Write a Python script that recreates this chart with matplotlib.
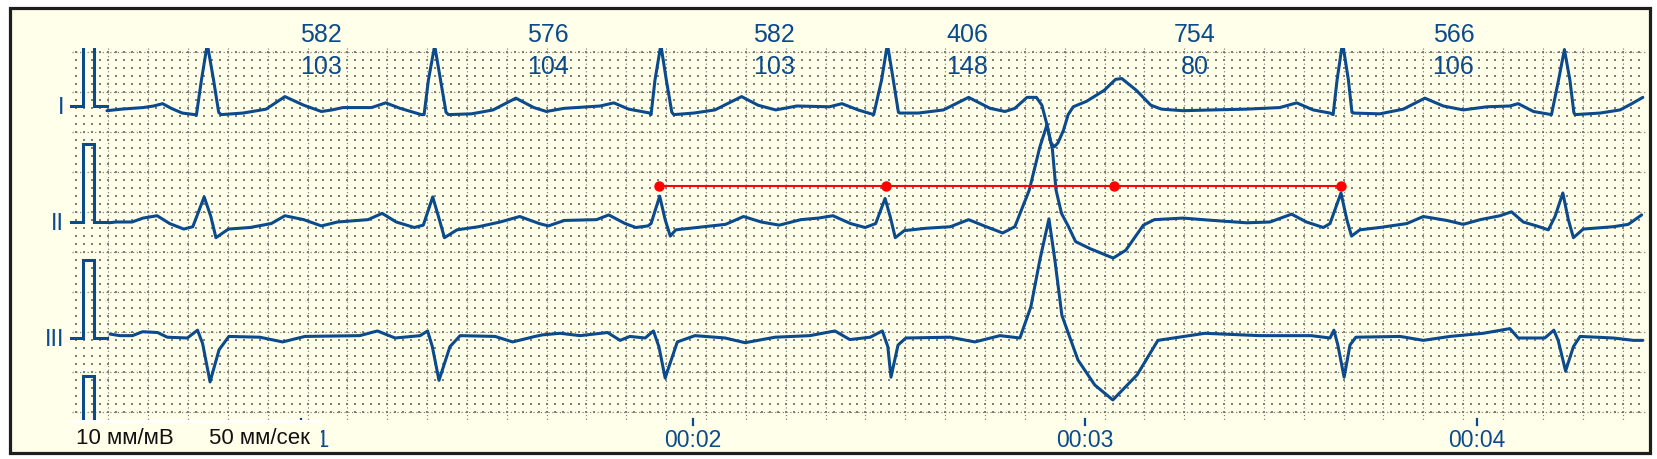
import numpy as np
import matplotlib
matplotlib.use("Agg")
import matplotlib.pyplot as plt
from matplotlib.patches import Rectangle
from matplotlib.transforms import blended_transform_factory

plt.rcParams['font.family'] = ['Liberation Sans', 'DejaVu Sans']

# ---------------- data (time in ms, amplitude in mV) ----------------
lead1_ms = [505, 542, 597, 624, 647, 669, 697, 729, 733, 746, 761, 777, 790, 796,
            852, 911, 959, 1007, 1052, 1079, 1107, 1180, 1216, 1253, 1307, 1314, 1325, 1341, 1356, 1370, 1376,
            1435, 1490, 1548, 1594, 1626, 1671, 1763, 1798, 1836, 1890, 1893, 1903, 1918, 1932, 1946, 1951,
            2002, 2056, 2124, 2166, 2211, 2265, 2348, 2380, 2421, 2461, 2481, 2496, 2511, 2524, 2528,
            2575, 2639, 2703, 2758, 2796, 2821, 2852, 2876, 2890, 2902, 2913, 2922, 2931, 2945, 2957, 2970,
            3004, 3049, 3078, 3094, 3131, 3168, 3195, 3250, 3326, 3412, 3497, 3540, 3582, 3625, 3633,
            3643, 3657, 3672, 3681, 3684,
            3752, 3812, 3867, 3914, 3965, 4025, 4084, 4105, 4144, 4190, 4208, 4223, 4237, 4247, 4250,
            4314, 4365, 4395, 4423]
lead1_mv = [-0.06, -0.04, -0.02, 0.00, 0.03, -0.03, -0.09, -0.11, -0.12, 0.33, 0.79, 0.33, -0.08, -0.11,
            -0.09, -0.04, 0.12, 0.01, -0.07, -0.05, -0.02, -0.02, 0.04, -0.03, -0.11, -0.11, 0.33, 0.77, 0.33, -0.08, -0.11,
            -0.10, -0.05, 0.10, -0.02, -0.07, -0.03, 0.00, 0.04, -0.04, -0.09, -0.11, 0.33, 0.78, 0.33, -0.08, -0.11,
            -0.09, -0.05, 0.12, 0.01, -0.05, 0.00, -0.01, 0.03, -0.05, -0.11, 0.33, 0.79, 0.33, -0.08, -0.09,
            -0.09, -0.05, 0.11, -0.03, -0.07, -0.03, 0.11, 0.11, 0.01, -0.22, -0.47, -0.52, -0.47, -0.31, -0.11, -0.01,
            0.06, 0.20, 0.34, 0.35, 0.20, 0.01, -0.04, -0.06, -0.05, -0.04, -0.02, 0.04, -0.05, -0.09, -0.11,
            0.33, 0.81, 0.33, -0.08, -0.09,
            -0.10, -0.04, 0.10, 0.00, -0.05, -0.01, 0.00, 0.03, -0.07, -0.11, 0.33, 0.72, 0.33, -0.08, -0.11,
            -0.09, -0.05, 0.03, 0.11]

lead2_ms = [510, 528, 569, 597, 633, 665, 701, 724, 753, 770, 783, 815, 870, 924, 959, 1007, 1052, 1093,
            1171, 1207, 1243, 1289, 1312, 1336, 1353, 1366, 1398, 1453, 1508, 1558, 1608, 1631, 1672, 1754,
            1785, 1827, 1854, 1885, 1893, 1915, 1929, 1942, 1956, 2010, 2083, 2129, 2174, 2220, 2275, 2320,
            2357, 2402, 2439, 2466, 2490, 2503, 2516, 2539, 2594, 2657, 2703, 2748, 2790, 2821, 2858, 2885,
            2903, 2917, 2926, 2940, 2958, 2976, 3013, 3072, 3104, 3149, 3177, 3250, 3327, 3412, 3472, 3527,
            3565, 3608, 3625, 3653, 3668, 3680, 3701, 3752, 3821, 3863, 3923, 3965, 4008, 4059, 4088, 4118,
            4152, 4182, 4199, 4219, 4233, 4246, 4271, 4348, 4386, 4420]
lead2_mv = [-0.01, 0.00, 0.00, 0.05, 0.08, -0.02, -0.09, -0.06, 0.32, 0.07, -0.20, -0.09, -0.07, -0.02, 0.08, 0.03, -0.05, 0.00,
            0.03, 0.11, 0.00, -0.07, -0.04, 0.32, 0.03, -0.20, -0.10, -0.06, 0.00, 0.07, -0.02, -0.05, 0.02, 0.03,
            0.09, -0.02, -0.07, -0.05, -0.02, 0.33, 0.03, -0.18, -0.10, -0.07, -0.03, 0.07, 0.00, -0.04, 0.03, 0.05,
            0.08, -0.02, -0.07, -0.02, 0.30, 0.07, -0.20, -0.11, -0.08, -0.06, 0.03, -0.06, -0.14, -0.06, 0.41, 0.96,
            1.24, 0.92, 0.41, 0.11, -0.06, -0.25, -0.34, -0.46, -0.36, -0.04, 0.03, 0.05, 0.02, -0.01, 0.00, 0.10,
            0.00, -0.07, -0.02, 0.37, 0.03, -0.18, -0.10, -0.07, -0.02, 0.07, 0.02, -0.03, 0.03, 0.08, 0.13, 0.00,
            -0.05, -0.10, 0.07, 0.37, 0.03, -0.20, -0.09, -0.06, -0.03, 0.09]

lead3_ms = [513, 538, 570, 596, 634, 659, 710, 736, 749, 768, 791, 816, 895, 953, 1010, 1150, 1195, 1240,
            1304, 1323, 1335, 1352, 1380, 1406, 1495, 1540, 1597, 1616, 1661, 1712, 1782, 1814, 1839, 1878,
            1899, 1913, 1929, 1960, 2005, 2082, 2133, 2209, 2298, 2362, 2400, 2452, 2483, 2497, 2505, 2523,
            2543, 2656, 2719, 2783, 2834, 2862, 2885, 2908, 2923, 2941, 2982, 3025, 3071, 3133, 3186, 3306,
            3446, 3577, 3625, 3635, 3645, 3661, 3676, 3691, 3804, 3863, 3931, 4016, 4084, 4105, 4173, 4196,
            4207, 4226, 4246, 4263, 4348, 4399, 4423]
lead3_mv = [0.05, 0.03, 0.03, 0.08, 0.07, 0.01, 0.00, 0.10, -0.07, -0.56, -0.15, 0.02, 0.01, -0.05, 0.02, 0.03, 0.09, 0.00,
            0.03, 0.09, -0.11, -0.54, -0.11, 0.03, 0.02, -0.05, 0.02, 0.04, 0.06, 0.03, 0.07, -0.03, 0.02, 0.00,
            0.09, -0.11, -0.51, -0.05, 0.03, 0.00, -0.06, 0.01, 0.03, 0.09, -0.02, 0.01, 0.09, -0.11, -0.50, -0.09,
            0.00, 0.01, -0.05, 0.03, 0.00, 0.40, 1.00, 1.52, 1.00, 0.29, -0.28, -0.60, -0.79, -0.47, -0.03, 0.06,
            0.03, 0.03, 0.00, 0.10, -0.09, -0.50, -0.09, 0.01, 0.02, -0.03, 0.02, 0.06, 0.12, 0.00, 0.00, 0.10,
            -0.03, -0.42, -0.11, 0.02, 0.00, -0.03, -0.03]

lead_names = ["I", "II", "III"]
cal_s = [0.413, 0.444, 0.444, 0.472, 0.472, 0.505]
cal_mv = [0, 0, 1, 1, 0, 0]

beat_times = [0.761, 1.341, 1.918, 2.496, 2.903, 3.657, 4.223]
rr_ms = [582, 576, 582, 406, 754, 566]
hr_bpm = [103, 104, 103, 148, 80, 106]

marker_times = [1.913, 2.493, 3.074, 3.653]
marker_level_mv = 0.46

time_ticks = [1, 2, 3, 4]
time_labels = ["00:01", "00:02", "00:03", "00:04"]
gain_label = "10 мм/мВ"
speed_label = "50 мм/сек"

# ---------------- layout / style ----------------
W, H = 1658, 459
PX_PER_S = 392.0
X_T0 = -91.0
PX_PER_MV = 78.4
CREAM = '#FFFFEA'
BLUE = '#0B4A8C'
GRID = '#7E7E78'

fig = plt.figure(figsize=(W / 100, H / 100), dpi=100)
fig.patch.set_facecolor('white')

bg = fig.add_axes([0, 0, 1, 1])
bg.set_xlim(0, W)
bg.set_ylim(H, 0)
bg.axis('off')

bg.add_patch(Rectangle((10.5, 7.5), 1640, 445, facecolor=CREAM, edgecolor='#1E1E1E', lw=2.3, zorder=0))

# paper grid
GX0, GX1, GY0, GY1 = 72, 1645, 47.5, 419.5
major_x = 108.3 + 39.85 * np.arange(0, 40)
major_x = major_x[major_x <= GX1]
major_y = 52.3 + 39.93 * np.arange(0, 10)
minor_x = 108.3 + 7.97 * np.arange(-5, 200)
minor_x = minor_x[(minor_x >= GX0 - 1) & (minor_x <= GX1)]
minor_y = 52.3 + 7.986 * np.arange(0, 50)
minor_y = minor_y[minor_y <= GY1]
bg.vlines(major_x, GY0, GY1, colors=GRID, linestyles=(0, (1, 2.2)), lw=0.85, zorder=1)
bg.hlines(major_y, GX0, GX1, colors=GRID, linestyles=(0, (1, 2.2)), lw=0.85, zorder=1)
mx, my = np.meshgrid(minor_x, minor_y)
bg.scatter(mx.ravel(), my.ravel(), s=0.75, marker='s', c=GRID, linewidths=0, zorder=1)

# data axes: x in seconds, y in mV
ax = fig.add_axes([0, 0, 1, 1])
ax.set_xlim((0 - X_T0) / PX_PER_S, (W - X_T0) / PX_PER_S)
ax.set_ylim(0, H / PX_PER_MV)
ax.axis('off')
ax.patch.set_alpha(0)

base_px = [106, 222, 338, 454]
offs = [(H - b) / PX_PER_MV for b in base_px]
clip = Rectangle((0, GY0), W, GY1 - GY0, transform=bg.transData)

leads = [(lead1_ms, lead1_mv), (lead2_ms, lead2_mv), (lead3_ms, lead3_mv)]
for (ms, mv), off in zip(leads, offs[:3]):
    ln, = ax.plot(np.array(ms) / 1000.0, off + np.array(mv), color=BLUE, lw=2.2,
                  solid_joinstyle='round', solid_capstyle='round', zorder=3)
    ln.set_clip_path(clip)

for off in offs:
    ln, = ax.plot(cal_s, off + np.array(cal_mv), color=BLUE, lw=2.2,
                  solid_joinstyle='miter', zorder=3)
    ln.set_clip_path(clip)

for name, b in zip(lead_names, base_px[:3]):
    ax.text(64, b + 8.5, name, transform=bg.transData, ha='right', va='baseline',
            fontsize=17, color=BLUE, zorder=4)

# RR / HR labels
bl = blended_transform_factory(ax.transData, bg.transData)
for i in range(len(rr_ms)):
    tm = 0.5 * (beat_times[i] + beat_times[i + 1])
    ax.text(tm, 42.3, str(rr_ms[i]), transform=bl, ha='center', va='baseline',
            fontsize=18, color=BLUE, zorder=4)
    ax.text(tm, 74.0, str(hr_bpm[i]), transform=bl, ha='center', va='baseline',
            fontsize=18, color=BLUE, zorder=4)

# red interval marker on lead II
ax.plot(marker_times, [offs[1] + marker_level_mv] * len(marker_times), color='#FF0000',
        lw=1.5, marker='o', ms=6.5, zorder=5)

# time ticks
for t, lab in zip(time_ticks, time_labels):
    ax.plot([t, t], [418.5, 425], transform=bl, color=BLUE, lw=1.6, zorder=4)
    ax.text(t, 446.7, lab, transform=bl, ha='center', va='baseline', fontsize=16.5,
            color=BLUE, zorder=4)

# gain / speed box (covers most of the first time label, as in the source)
ax.add_patch(Rectangle((72, 422.5), 249, 28.5, transform=bg.transData,
                       facecolor=CREAM, edgecolor='none', zorder=6))
ax.add_patch(Rectangle((72, 419.8), 249, 3.0, transform=bg.transData,
                       facecolor='white', edgecolor='none', zorder=6))
ax.text(76, 443.5, gain_label, transform=bg.transData, ha='left', va='baseline',
        fontsize=16, color='#111111', zorder=7)
ax.text(209, 443.5, speed_label, transform=bg.transData, ha='left', va='baseline',
        fontsize=16, color='#111111', zorder=7)

fig.savefig('out.png', dpi=100, facecolor='white')
